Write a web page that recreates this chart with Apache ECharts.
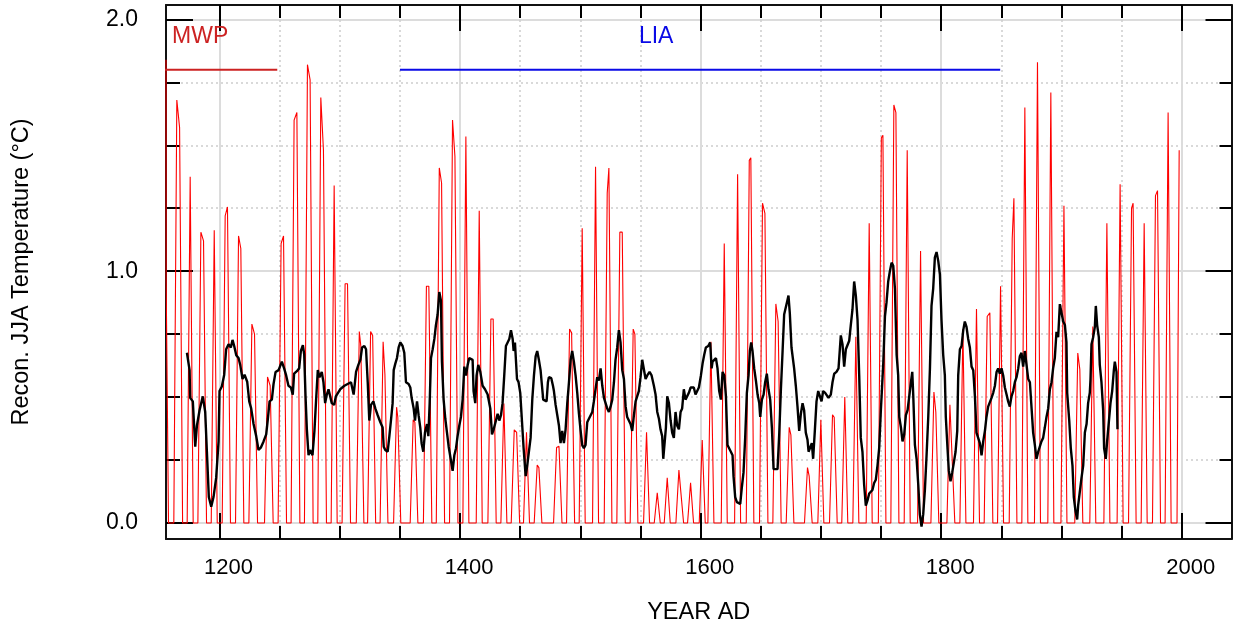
<!DOCTYPE html>
<html><head><meta charset="utf-8">
<script src="https://cdn.jsdelivr.net/npm/echarts@6.0.0/dist/echarts.min.js"></script>
<style>html,body{margin:0;padding:0;background:#fff}#c{width:1233px;height:632px}</style>
</head><body><div id="c"></div>
<script>
// ---- tick labels ----
const xMajorTicks = [1200, 1400, 1600, 1800, 2000];
const xMinorTicks = [1250, 1300, 1350, 1450, 1500, 1550, 1650, 1700, 1750, 1850, 1900, 1950];
const yMajorTicks = [0, 1, 2];
const yMinorTicks = [0.25, 0.5, 0.75, 1.25, 1.5, 1.75];

// ---- periods (start year, end year, level) ----
const mwpPeriod = [1150, 1248, 1.8];
const liaPeriod = [1350, 1849, 1.8];

// ---- red series [year, value] ----
const redSeries = [
[1155.5,1.84],[1155.6,0.97],[1157.6,0],
[1162,0],[1164.5,1.68],[1166.8,1.57],[1169.3,0],
[1173.1,0],[1175.6,1.375],[1178.1,0],
[1182,0],[1184.5,1.155],[1186.7,1.12],[1189.2,0],
[1193.1,0],[1195.6,1.163],[1198.1,0],
[1202.2,0],[1204.7,1.22],[1206.6,1.255],[1209.1,0],
[1213.3,0],[1215.8,1.14],[1217.7,1.09],[1220.2,0],
[1224.4,0],[1226.9,0.79],[1229.1,0.75],[1231.6,0],
[1237.4,0],[1239.9,0.58],[1242.1,0.545],[1244.6,0],
[1248.7,0],[1251.2,1.11],[1253.2,1.14],[1255.7,0],
[1259.5,0],[1262,1.6],[1264.3,1.63],[1266.8,0],
[1270.6,0],[1273.1,1.82],[1275.3,1.76],[1277.8,0],
[1281.7,0],[1284.2,1.69],[1286.4,1.48],[1288.9,0],
[1292.8,0],[1295.3,1.34],[1297.8,0],
[1301.9,0],[1304.4,0.95],[1306.4,0.95],[1308.9,0],
[1313.7,0],[1316.2,0.76],[1317.5,0.7],[1320,0],
[1323.1,0],[1325.6,0.76],[1327.3,0.745],[1329.8,0],
[1333.5,0],[1336,0.72],[1337.5,0.59],[1340,0],
[1344.7,0],[1347.2,0.46],[1348.2,0.42],[1350.7,0],
[1358.5,0],[1361,0.41],[1362.4,0.4],[1364.9,0],
[1369.5,0],[1372,0.94],[1374,0.94],[1376.5,0],
[1380.2,0],[1382.7,1.41],[1384.6,1.35],[1387.1,0],
[1391.2,0],[1393.7,1.6],[1395.7,1.455],[1398.2,0],
[1402.3,0],[1404.8,1.535],[1407.3,0],
[1413.4,0],[1415.9,1.24],[1418.4,0],
[1423.1,0],[1425.6,0.81],[1427.5,0.81],[1430,0],
[1433.9,0],[1436.4,0.475],[1438.9,0],
[1442.5,0],[1445,0.37],[1447,0.36],[1449.5,0],
[1452.7,0],[1455.2,0.36],[1457.7,0],
[1461.6,0],[1464.1,0.23],[1465.5,0.22],[1468,0],
[1477.7,0],[1480.2,0.3],[1482.2,0.305],[1484.7,0],
[1488.5,0],[1491,0.77],[1492.7,0.755],[1495.2,0],
[1499,0],[1501.5,1.17],[1504,0],
[1510.1,0],[1512.6,1.415],[1515.1,0],
[1519.8,0],[1522.3,1.31],[1523.7,1.41],[1526.2,0],
[1530.3,0],[1532.8,1.155],[1534.8,1.155],[1537.3,0],
[1541.4,0],[1543.9,0.77],[1545.3,0.75],[1547.8,0],
[1552.5,0],[1555,0.36],[1557.5,0],
[1561.4,0],[1563.9,0.12],[1566.4,0],
[1569.7,0],[1572.2,0.18],[1574.7,0],
[1579.4,0],[1581.9,0.21],[1583.3,0.21],[1585.8,0],
[1589.1,0],[1591.6,0.16],[1594.1,0],
[1598.8,0],[1601.3,0.33],[1603.8,0],
[1606,0],[1608.5,0.72],[1611,0],
[1617.1,0],[1619.6,1.11],[1622.1,0],
[1628.2,0],[1630.7,1.385],[1633.2,0],
[1637.9,0],[1640.4,1.44],[1641.7,1.45],[1644.2,0],
[1648.9,0],[1651.4,1.27],[1653.4,1.23],[1655.9,0],
[1660,0],[1662.5,0.87],[1664.4,0.8],[1666.9,0],
[1671.1,0],[1673.6,0.38],[1675,0.35],[1677.5,0],
[1686.3,0],[1688.8,0.22],[1690.2,0.186],[1692.7,0],
[1697.4,0],[1699.9,0.41],[1702.4,0],
[1707.1,0],[1709.6,0.43],[1711,0.42],[1713.5,0],
[1717.3,0],[1719.8,0.5],[1722.3,0],
[1726.5,0],[1729,0.74],[1731.5,0],
[1737.6,0],[1740.1,1.19],[1742.6,0],
[1747.7,0],[1750.2,1.53],[1751.5,1.54],[1754,0],
[1758.1,0],[1760.6,1.66],[1762.3,1.63],[1764.8,0],
[1769.2,0],[1771.7,1.48],[1774.2,0],
[1780.3,0],[1782.8,1.08],[1785.3,0],
[1791.4,0],[1793.9,0.52],[1795.5,0.44],[1798,0],
[1804.7,0],[1807.2,0.47],[1808.8,0.47],[1811.3,0],
[1815.5,0],[1818,0.77],[1820.5,0],
[1826.8,0],[1829.3,0.85],[1831.8,0],
[1835.7,0],[1838.2,0.82],[1840.4,0.835],[1842.9,0],
[1846.8,0],[1849.3,0.94],[1851.8,0],
[1856.5,0],[1859,1.13],[1860.4,1.29],[1862.9,0],
[1867,0],[1869.5,1.65],[1872,0],
[1877.5,0],[1880,1.83],[1882.5,0],
[1888.6,0],[1891.1,1.71],[1893.6,0],
[1899.5,0],[1902,1.26],[1904.5,0],
[1911,0],[1913.5,0.675],[1915.2,0.61],[1917.7,0],
[1923.5,0],[1926,0.78],[1928.5,0],
[1935.2,0],[1937.7,1.19],[1940.2,0],
[1946.2,0],[1948.7,1.345],[1951.2,0],
[1955.7,0],[1958.2,1.25],[1959.5,1.27],[1962,0],
[1966.2,0],[1968.7,1.19],[1971.2,0],
[1975.6,0],[1978.1,1.3],[1979.8,1.32],[1982.3,0],
[1986.1,0],[1988.6,1.63],[1991.1,0],
[1996,0],[1997.8,1.48]
];

// ---- black reconstruction [year, value] ----
const blackSeries = [
[1172.9,0.676],[1175.1,0.607],[1175.6,0.497],[1177.8,0.483],[1179.8,0.303],[1181.2,0.386],[1183.4,0.448],[1186.1,0.503],[1188.1,0.441],[1189.5,0.283],
[1191.1,0.103],[1193.1,0.065],[1195.0,0.103],[1197.2,0.179],[1199.2,0.324],[1200.0,0.524],[1201.9,0.542],[1203.9,0.589],[1205.5,0.690],[1207.5,0.710],
[1209.4,0.697],[1210.8,0.727],[1212.2,0.703],[1213.9,0.666],[1215.8,0.655],[1217.2,0.628],[1219.1,0.572],[1220.8,0.589],[1223.0,0.561],[1224.7,0.483],
[1226.3,0.455],[1228.3,0.393],[1230.5,0.345],[1232.4,0.290],[1234.3,0.299],[1236.6,0.324],[1238.8,0.352],[1240.2,0.414],[1241.6,0.483],[1243.5,0.490],
[1244.9,0.552],[1246.6,0.600],[1249.1,0.607],[1251.8,0.641],[1253.7,0.614],[1255.4,0.586],[1257.3,0.545],[1259.3,0.538],[1260.9,0.510],[1262.0,0.593],
[1264.3,0.603],[1266.2,0.614],[1267.6,0.683],[1269.3,0.706],[1270.4,0.669],[1271.5,0.503],[1272.6,0.372],[1274.0,0.269],[1275.3,0.290],[1277.3,0.269],
[1278.9,0.366],[1280.3,0.490],[1281.7,0.607],[1283.1,0.579],[1285.0,0.600],[1286.4,0.559],[1287.8,0.476],[1289.2,0.510],[1290.6,0.531],[1292.0,0.538],
[1293.3,0.476],[1295.3,0.469],[1296.7,0.503],[1298.3,0.510],[1300.3,0.531],[1303.8,0.545],[1306.5,0.552],[1309.3,0.559],[1311.5,0.510],[1313.5,0.600],
[1315.4,0.628],[1317.1,0.648],[1318.5,0.697],[1320.4,0.703],[1321.8,0.690],[1323.2,0.559],[1324.5,0.407],[1325.9,0.469],[1327.9,0.483],[1329.5,0.455],
[1331.5,0.428],[1333.7,0.400],[1335.6,0.379],[1336.5,0.303],[1337.8,0.290],[1339.8,0.283],[1341.2,0.345],[1342.5,0.407],[1343.9,0.476],[1344.8,0.607],
[1346.2,0.634],[1347.5,0.655],[1348.9,0.697],[1350.3,0.717],[1352.2,0.703],[1353.6,0.676],[1355.0,0.559],[1357.2,0.552],[1358.6,0.538],[1359.7,0.497],
[1361.4,0.455],[1362.5,0.407],[1364.2,0.483],[1365.5,0.428],[1366.9,0.379],[1368.0,0.317],[1369.4,0.283],[1370.8,0.359],[1372.5,0.393],[1373.6,0.345],
[1374.7,0.476],[1375.8,0.655],[1377.2,0.690],[1378.6,0.731],[1379.9,0.786],[1381.3,0.828],[1382.7,0.917],[1384.1,0.883],[1384.9,0.641],[1386.3,0.490],
[1387.7,0.414],[1389.1,0.359],[1390.5,0.303],[1392.4,0.248],[1393.8,0.207],[1395.2,0.269],[1396.6,0.297],[1397.9,0.345],[1399.3,0.386],[1400.7,0.421],
[1402.1,0.490],[1403.5,0.621],[1404.9,0.586],[1406.3,0.628],[1407.6,0.655],[1409.0,0.662],[1410.4,0.648],[1411.2,0.524],[1412.6,0.476],[1413.7,0.586],
[1415.1,0.628],[1416.8,0.600],[1418.7,0.545],[1420.7,0.531],[1422.9,0.510],[1425.1,0.455],[1426.5,0.352],[1427.9,0.372],[1429.8,0.407],[1431.2,0.434],
[1432.6,0.407],[1434.0,0.428],[1435.3,0.476],[1436.7,0.586],[1438.1,0.703],[1439.5,0.717],[1440.9,0.731],[1442.3,0.766],[1443.7,0.731],[1444.5,0.683],
[1445.6,0.717],[1447.3,0.572],[1448.6,0.559],[1450.0,0.517],[1451.4,0.407],[1452.8,0.297],[1454.5,0.186],[1455.8,0.228],[1457.2,0.234],[1458.6,0.338],
[1460.0,0.490],[1461.4,0.586],[1462.8,0.662],[1464.1,0.683],[1465.5,0.648],[1466.9,0.607],[1467.8,0.559],[1469.1,0.490],[1470.5,0.483],[1471.9,0.483],
[1473.0,0.559],[1473.8,0.579],[1475.8,0.575],[1477.2,0.545],[1478.0,0.524],[1479.4,0.469],[1480.8,0.428],[1482.2,0.386],[1483.5,0.317],[1484.9,0.366],
[1486.3,0.317],[1487.7,0.372],[1489.1,0.476],[1490.5,0.559],[1491.9,0.648],[1493.2,0.683],[1494.6,0.641],[1496.0,0.586],[1497.4,0.517],[1498.8,0.434],
[1500.2,0.366],[1501.5,0.310],[1502.9,0.297],[1504.3,0.310],[1505.7,0.400],[1507.1,0.414],[1508.5,0.421],[1509.9,0.441],[1511.2,0.483],[1512.6,0.531],
[1514.0,0.579],[1515.4,0.566],[1516.8,0.614],[1518.2,0.545],[1519.6,0.497],[1520.9,0.490],[1522.3,0.455],[1523.7,0.441],[1525.1,0.462],[1526.5,0.490],
[1527.9,0.559],[1529.2,0.648],[1530.6,0.697],[1532.0,0.766],[1533.4,0.717],[1534.8,0.607],[1536.2,0.572],[1537.6,0.462],[1538.9,0.421],[1540.3,0.421],
[1541.7,0.393],[1543.1,0.366],[1544.5,0.428],[1545.9,0.483],[1547.2,0.483],[1548.6,0.524],[1550.0,0.579],[1551.4,0.648],[1552.8,0.655],[1554.2,0.572],
[1555.6,0.586],[1557.5,0.600],[1559.2,0.586],[1561.1,0.545],[1562.5,0.510],[1563.9,0.441],[1565.3,0.414],[1566.6,0.372],[1568.0,0.345],[1568.9,0.255],
[1570.0,0.248],[1571.1,0.379],[1572.2,0.503],[1573.6,0.476],[1575.0,0.407],[1576.3,0.359],[1577.7,0.338],[1579.1,0.441],[1580.5,0.386],[1581.9,0.372],
[1583.3,0.441],[1584.6,0.455],[1586.0,0.531],[1587.4,0.490],[1588.8,0.483],[1590.2,0.517],[1591.6,0.538],[1593.0,0.531],[1594.3,0.538],[1595.7,0.510],
[1597.1,0.517],[1598.5,0.538],[1600.2,0.586],[1601.6,0.634],[1603.0,0.669],[1604.3,0.697],[1606.3,0.703],[1607.9,0.717],[1609.1,0.614],[1609.9,0.641],
[1611.3,0.648],[1612.7,0.655],[1614.0,0.614],[1615.4,0.524],[1616.8,0.490],[1618.2,0.600],[1619.6,0.586],[1621.0,0.503],[1622.3,0.310],[1623.7,0.303],
[1625.1,0.283],[1626.5,0.269],[1627.3,0.186],[1628.7,0.103],[1630.1,0.083],[1631.5,0.090],[1632.9,0.076],[1634.3,0.145],[1635.6,0.200],[1637.0,0.338],
[1638.4,0.517],[1639.8,0.586],[1640.9,0.683],[1642.0,0.717],[1643.1,0.683],[1644.5,0.614],[1645.9,0.566],[1647.3,0.510],[1648.7,0.476],[1649.5,0.421],
[1650.9,0.490],[1652.3,0.510],[1653.6,0.559],[1655.0,0.593],[1656.4,0.531],[1657.8,0.490],[1659.2,0.379],[1660.6,0.214],[1662.0,0.207],[1663.9,0.214],
[1665.3,0.352],[1666.7,0.531],[1668.1,0.683],[1669.4,0.828],[1670.8,0.834],[1671.7,0.876],[1673.0,0.903],[1674.1,0.834],[1675.5,0.697],[1677.7,0.614],
[1679.1,0.545],[1680.5,0.462],[1681.9,0.366],[1683.3,0.434],[1684.7,0.476],[1686.0,0.448],[1687.4,0.359],[1688.8,0.331],[1689.7,0.283],[1691.0,0.276],
[1692.4,0.317],[1693.5,0.255],[1694.9,0.366],[1696.3,0.483],[1697.7,0.524],[1699.1,0.517],[1700.5,0.483],[1701.8,0.524],[1703.5,0.517],[1704.9,0.517],
[1706.3,0.497],[1708.2,0.510],[1709.6,0.559],[1711.0,0.593],[1712.9,0.600],[1714.6,0.614],[1715.7,0.690],[1716.5,0.745],[1717.9,0.710],[1719.3,0.621],
[1720.7,0.690],[1722.1,0.683],[1723.5,0.724],[1724.8,0.786],[1726.2,0.848],[1727.6,0.959],[1729.0,0.903],[1730.4,0.807],[1731.8,0.586],[1733.1,0.338],
[1734.5,0.283],[1735.9,0.152],[1737.3,0.069],[1738.7,0.090],[1740.1,0.117],[1741.5,0.117],[1742.8,0.131],[1744.2,0.159],[1745.6,0.172],[1747.0,0.228],
[1748.4,0.297],[1749.8,0.448],[1751.8,0.634],[1753.2,0.821],[1754.5,0.876],[1755.9,0.959],[1757.3,1.000],[1758.7,1.034],[1760.1,1.021],[1761.5,0.931],
[1762.9,0.669],[1764.2,0.586],[1765.1,0.421],[1766.5,0.379],[1767.8,0.324],[1769.2,0.352],[1770.6,0.428],[1772.0,0.448],[1773.4,0.503],[1774.8,0.559],
[1775.9,0.600],[1776.7,0.510],[1778.1,0.310],[1779.5,0.255],[1780.9,0.152],[1782.2,0.034],[1783.6,-0.014],[1785.0,0.034],[1786.4,0.131],[1787.8,0.269],
[1789.2,0.421],[1790.6,0.614],[1791.9,0.862],[1793.3,0.931],[1794.7,1.055],[1796.1,1.076],[1797.5,1.041],[1798.9,0.986],[1800.2,0.807],[1801.6,0.669],
[1803.0,0.586],[1803.8,0.421],[1805.2,0.297],[1806.3,0.207],[1807.7,0.166],[1809.1,0.200],[1810.5,0.241],[1811.9,0.283],[1813.3,0.366],[1814.1,0.586],
[1815.5,0.690],[1816.9,0.703],[1818.3,0.766],[1819.6,0.800],[1821.0,0.779],[1822.4,0.731],[1823.8,0.697],[1825.2,0.621],[1826.6,0.607],[1828.0,0.503],
[1829.3,0.359],[1830.7,0.352],[1832.1,0.317],[1833.5,0.269],[1834.9,0.324],[1836.3,0.366],[1837.6,0.421],[1839.0,0.462],[1840.4,0.462],[1841.8,0.497],
[1843.2,0.517],[1844.6,0.545],[1846.0,0.600],[1847.3,0.614],[1848.7,0.593],[1850.1,0.614],[1851.5,0.586],[1852.9,0.538],[1854.3,0.510],[1855.6,0.483],
[1857.0,0.462],[1858.4,0.503],[1859.8,0.524],[1861.2,0.559],[1862.6,0.579],[1864.0,0.614],[1865.3,0.662],[1866.7,0.676],[1868.1,0.621],[1869.5,0.683],
[1870.9,0.628],[1872.3,0.572],[1873.7,0.559],[1875.0,0.462],[1876.4,0.359],[1877.8,0.310],[1879.2,0.255],[1880.6,0.283],[1882.0,0.290],[1883.3,0.324],
[1884.7,0.338],[1886.1,0.379],[1887.5,0.421],[1888.9,0.455],[1890.3,0.531],[1891.7,0.559],[1893.0,0.614],[1894.4,0.655],[1895.8,0.759],[1897.2,0.738],
[1898.6,0.869],[1900.0,0.862],[1901.4,0.800],[1902.8,0.786],[1904.1,0.717],[1904.7,0.517],[1906.4,0.407],[1907.7,0.297],[1909.1,0.228],[1910.2,0.103],
[1911.6,0.048],[1913.0,0.014],[1913.8,0.069],[1915.2,0.069],[1916.6,0.179],[1918.0,0.228],[1919.4,0.359],[1920.8,0.393],[1922.1,0.476],[1923.5,0.517],
[1924.1,0.572],[1924.9,0.710],[1926.3,0.738],[1927.7,0.779],[1928.5,0.862],[1929.6,0.786],[1931.0,0.738],[1931.8,0.628],[1933.2,0.559],[1934.6,0.448],
[1935.4,0.297],[1936.8,0.255],[1937.9,0.324],[1939.3,0.400],[1940.7,0.476],[1942.1,0.524],[1943.5,0.607],[1944.3,0.641],[1945.7,0.600],[1946.5,0.372]
];

// ---- chart ----
const FONT = '"Liberation Sans", Arial, Helvetica, sans-serif';
const X_MIN = 1155.5, X_MAX = 2041.3, Y_MIN = -0.0635, Y_MAX = 2.057;
const frame = { onZero: false, lineStyle: { color: '#111', width: 2 } };
const solidGrid = { show: true, lineStyle: { color: '#dcdcdc', width: 2 } };
const dotGrid = { show: true, lineStyle: { color: '#cdcdcd', width: 1.5, type: [2, 3] } };

function xAx(pos, ticks, len, withLabels, split) {
  return {
    type: 'value', position: pos, min: X_MIN, max: X_MAX,
    axisLine: len > 20 ? Object.assign({ show: true }, frame) : { show: false, onZero: false },
    axisTick: { show: true, inside: true, length: len, customValues: ticks, lineStyle: { color: '#000', width: 2 } },
    axisLabel: withLabels ? { show: true, customValues: ticks, fontSize: 22, color: '#000', fontFamily: FONT, margin: 18, padding: [0, 0, 0, 18], formatter: v => String(Math.round(v)) } : { show: false },
    splitLine: split || { show: false }
  };
}
function yAx(pos, ticks, len, withLabels, split) {
  return {
    type: 'value', position: pos, min: Y_MIN, max: Y_MAX,
    axisLine: len > 20 ? Object.assign({ show: true }, frame) : { show: false, onZero: false },
    axisTick: { show: true, inside: true, length: len, customValues: ticks, lineStyle: { color: '#000', width: 2 } },
    axisLabel: withLabels ? { show: true, customValues: ticks, fontSize: 23, color: '#000', fontFamily: FONT, margin: 28, formatter: v => Number(v).toFixed(1) } : { show: false },
    splitLine: split || { show: false }
  };
}

const xAxes = [
  Object.assign(xAx('bottom', xMajorTicks, 26, true, solidGrid), {
    name: 'YEAR AD', nameLocation: 'middle', nameGap: 62,
    nameTextStyle: { fontSize: 23.5, color: '#000', fontFamily: FONT }
  }),
  xAx('top', xMajorTicks, 26, false, null),
  xAx('bottom', xMinorTicks, 13, false, dotGrid),
  xAx('top', xMinorTicks, 13, false, null)
];
const yAxes = [
  Object.assign(yAx('left', yMajorTicks, 27, true, solidGrid), {
    name: 'Recon. JJA Temperature (°C)', nameLocation: 'middle', nameGap: 132,
    nameTextStyle: { fontSize: 23.5, color: '#000', fontFamily: FONT }
  }),
  yAx('right', yMajorTicks, 26, false, null),
  yAx('left', yMinorTicks, 14, false, dotGrid),
  yAx('right', yMinorTicks, 12, false, null)
];

const annLabel = (txt, col, pos) => ({ show: true, formatter: txt, position: pos, distance: 0, color: col, fontSize: 23,
  fontFamily: FONT, textBorderWidth: 0, textShadowBlur: 0, opacity: 1 });

const chart = echarts.init(document.getElementById('c'), null, { renderer: 'canvas' });
chart.setOption({
  animation: false,
  backgroundColor: '#fff',
  grid: { left: 166, right: 1.5, top: 5, bottom: 93, containLabel: false, outerBoundsMode: 'none' },
  xAxis: xAxes,
  yAxis: yAxes,
  series: [
    { type: 'line', name: 'red', data: redSeries, symbol: 'none', clip: true, z: 3,
      lineStyle: { color: '#ff0000', width: 1.1 } },
    { type: 'line', name: 'black', data: blackSeries, symbol: 'none', clip: true, z: 4,
      lineStyle: { color: '#000', width: 2.4 } },
    { type: 'line', name: 'MWP', data: [[mwpPeriod[0], mwpPeriod[2]], [mwpPeriod[1], mwpPeriod[2]]], symbol: 'none', clip: true, z: 5,
      lineStyle: { color: '#cc2222', width: 2 } },
    { type: 'line', name: 'LIA', data: [[liaPeriod[0], liaPeriod[2]], [liaPeriod[1], liaPeriod[2]]], symbol: 'none', clip: true, z: 5,
      lineStyle: { color: '#0a0ae6', width: 2 } },
    { type: 'scatter', name: 'labels', symbol: 'circle', symbolSize: 0.01, z: 6, silent: true,
      itemStyle: { color: '#ffffff', opacity: 1 },
      data: [
        { value: [1160.5, 1.93], label: annLabel('MWP', '#cc2222', 'right') },
        { value: [1563, 1.93], label: annLabel('LIA', '#0a0ae6', 'inside') }
      ] }
  ]
});
</script>
</body></html>
